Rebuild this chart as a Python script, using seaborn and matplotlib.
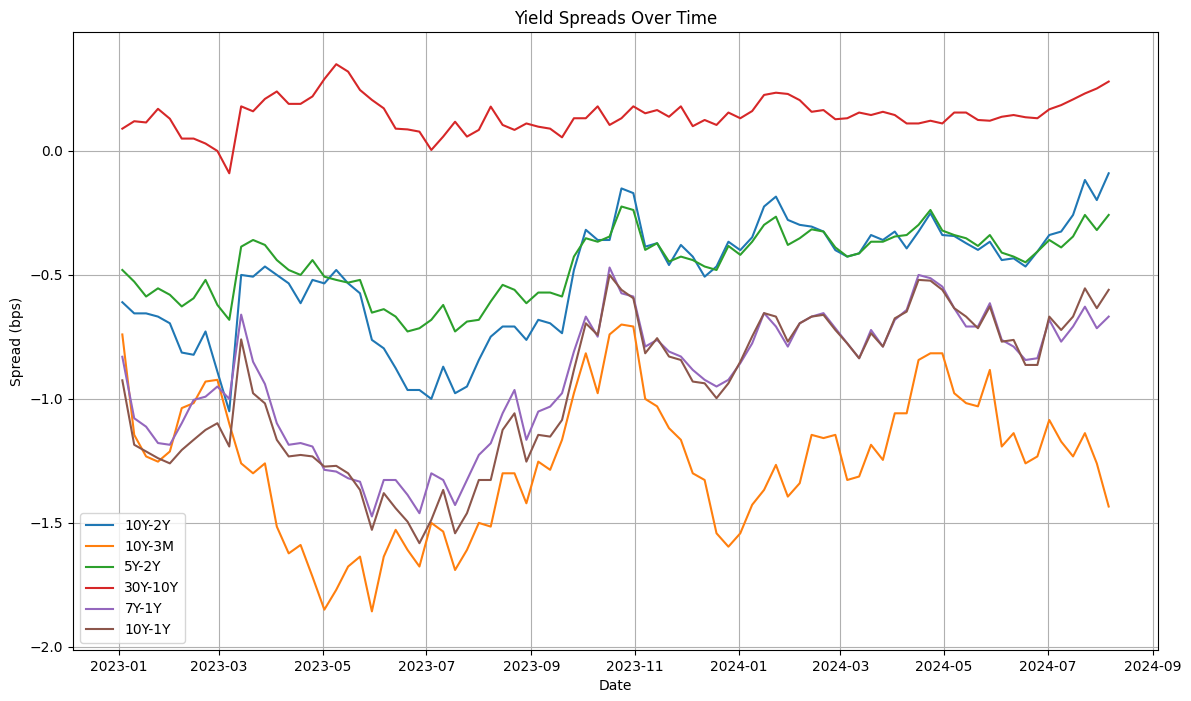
import matplotlib
matplotlib.use("Agg")
from matplotlib import pyplot as plt
import numpy as np
import pandas as pd
import seaborn as sns

# weekly readings of the spreads, starting 2023-01-03
dates = pd.date_range("2023-01-03", periods=84, freq="7D")

s_10y2y = [-0.61, -0.655, -0.655, -0.668, -0.695, -0.813, -0.822, -0.728, -0.89, -1.05,
           -0.50, -0.507, -0.466, -0.50, -0.534, -0.614, -0.52, -0.534, -0.48, -0.534,
           -0.574, -0.762, -0.796, -0.876, -0.964, -0.964, -1.0, -0.87, -0.977, -0.95,
           -0.843, -0.749, -0.708, -0.708, -0.762, -0.681, -0.695, -0.735, -0.48, -0.318,
           -0.359, -0.359, -0.151, -0.17, -0.386, -0.372, -0.46, -0.379, -0.426, -0.507,
           -0.466, -0.366, -0.40, -0.348, -0.224, -0.184, -0.278, -0.298, -0.305, -0.325,
           -0.40, -0.426, -0.413, -0.339, -0.359, -0.325, -0.393, -0.325, -0.251, -0.339,
           -0.343, -0.372, -0.399, -0.366, -0.44, -0.433, -0.466, -0.406, -0.339, -0.325,
           -0.258, -0.117, -0.198, -0.09]

s_10y3m = [-0.74, -1.145, -1.232, -1.253, -1.212, -1.037, -1.017, -0.93, -0.923, -1.1,
           -1.26, -1.30, -1.26, -1.515, -1.623, -1.589, -1.717, -1.85, -1.77, -1.676,
           -1.636, -1.857, -1.636, -1.528, -1.609, -1.676, -1.50, -1.535, -1.69, -1.609,
           -1.50, -1.515, -1.30, -1.30, -1.421, -1.253, -1.286, -1.165, -0.977, -0.816,
           -0.977, -0.74, -0.70, -0.708, -1.0, -1.03, -1.118, -1.165, -1.30, -1.327,
           -1.542, -1.596, -1.542, -1.427, -1.367, -1.266, -1.394, -1.34, -1.145, -1.158,
           -1.145, -1.327, -1.313, -1.185, -1.246, -1.058, -1.058, -0.843, -0.816, -0.816,
           -0.977, -1.017, -1.03, -0.883, -1.192, -1.138, -1.26, -1.232, -1.085, -1.172,
           -1.232, -1.138, -1.26, -1.434]

s_5y2y = [-0.48, -0.527, -0.587, -0.554, -0.58, -0.627, -0.594, -0.52, -0.621, -0.681,
          -0.386, -0.359, -0.379, -0.44, -0.48, -0.50, -0.44, -0.507, -0.52, -0.531,
          -0.52, -0.652, -0.638, -0.668, -0.728, -0.715, -0.681, -0.621, -0.728, -0.688,
          -0.681, -0.607, -0.54, -0.56, -0.614, -0.571, -0.571, -0.587, -0.426, -0.352,
          -0.366, -0.345, -0.224, -0.238, -0.399, -0.372, -0.446, -0.426, -0.44, -0.466,
          -0.48, -0.383, -0.419, -0.366, -0.298, -0.265, -0.379, -0.352, -0.316, -0.325,
          -0.389, -0.426, -0.413, -0.366, -0.366, -0.345, -0.339, -0.298, -0.238, -0.321,
          -0.339, -0.352, -0.383, -0.339, -0.41, -0.426, -0.449, -0.406, -0.359, -0.389,
          -0.345, -0.258, -0.319, -0.258]

s_30y10y = [0.09, 0.12, 0.115, 0.17, 0.13, 0.05, 0.05, 0.03, 0.0, -0.09,
            0.18, 0.16, 0.21, 0.24, 0.19, 0.19, 0.22, 0.29, 0.35, 0.32,
            0.246, 0.206, 0.172, 0.09, 0.087, 0.078, 0.004, 0.058, 0.118, 0.058,
            0.085, 0.179, 0.105, 0.085, 0.111, 0.098, 0.09, 0.055, 0.132, 0.132,
            0.18, 0.105, 0.132, 0.18, 0.152, 0.165, 0.138, 0.18, 0.10, 0.125,
            0.105, 0.155, 0.132, 0.161, 0.226, 0.235, 0.23, 0.205, 0.158, 0.165,
            0.128, 0.132, 0.155, 0.145, 0.158, 0.145, 0.111, 0.111, 0.122, 0.111,
            0.155, 0.155, 0.125, 0.122, 0.138, 0.145, 0.136, 0.132, 0.168, 0.185,
            0.208, 0.232, 0.252, 0.28]

s_7y1y = [-0.83, -1.078, -1.112, -1.178, -1.185, -1.098, -1.004, -0.991, -0.95, -1.0,
          -0.66, -0.85, -0.94, -1.098, -1.185, -1.178, -1.192, -1.286, -1.293, -1.32,
          -1.334, -1.474, -1.327, -1.327, -1.387, -1.461, -1.30, -1.327, -1.428, -1.327,
          -1.226, -1.179, -1.058, -0.964, -1.165, -1.051, -1.031, -0.977, -0.809, -0.668,
          -0.749, -0.47, -0.574, -0.587, -0.789, -0.762, -0.809, -0.829, -0.883, -0.923,
          -0.95, -0.923, -0.856, -0.776, -0.654, -0.708, -0.789, -0.695, -0.668, -0.654,
          -0.715, -0.776, -0.836, -0.722, -0.789, -0.681, -0.641, -0.50, -0.513, -0.547,
          -0.634, -0.708, -0.708, -0.614, -0.762, -0.789, -0.843, -0.836, -0.681, -0.769,
          -0.708, -0.628, -0.715, -0.668]

s_10y1y = [-0.925, -1.185, -1.212, -1.239, -1.26, -1.206, -1.165, -1.125, -1.098, -1.192,
           -0.76, -0.977, -1.018, -1.165, -1.232, -1.226, -1.232, -1.273, -1.27, -1.30,
           -1.367, -1.528, -1.38, -1.441, -1.495, -1.582, -1.488, -1.367, -1.542, -1.461,
           -1.327, -1.327, -1.125, -1.058, -1.253, -1.145, -1.152, -1.085, -0.883, -0.695,
           -0.742, -0.50, -0.56, -0.594, -0.816, -0.755, -0.829, -0.843, -0.93, -0.937,
           -0.997, -0.937, -0.85, -0.748, -0.654, -0.668, -0.769, -0.695, -0.668, -0.661,
           -0.722, -0.776, -0.836, -0.735, -0.789, -0.675, -0.648, -0.52, -0.523, -0.56,
           -0.634, -0.668, -0.715, -0.627, -0.769, -0.762, -0.863, -0.863, -0.668, -0.722,
           -0.668, -0.554, -0.634, -0.56]

spreads = {
    "10Y-2Y": s_10y2y,
    "10Y-3M": s_10y3m,
    "5Y-2Y": s_5y2y,
    "30Y-10Y": s_30y10y,
    "7Y-1Y": s_7y1y,
    "10Y-1Y": s_10y1y,
}

df = pd.DataFrame(spreads, index=dates)
df.index.name = "Date"
long_df = df.reset_index().melt(id_vars="Date", var_name="Spread", value_name="Value")

fig = plt.figure(figsize=(11.91, 7.01), dpi=100)
ax = sns.lineplot(data=long_df, x="Date", y="Value", hue="Spread",
                  palette="tab10", linewidth=1.5)
ax.set_title("Yield Spreads Over Time")
ax.set_xlabel("Date")
ax.set_ylabel("Spread (bps)")
ax.set_ylim(-2.012, 0.48)
ax.grid(True)
ax.legend(loc="lower left")
fig.subplots_adjust(left=0.0613, right=0.9723, top=0.9544, bottom=0.073)
plt.savefig("out.png", dpi=100)
